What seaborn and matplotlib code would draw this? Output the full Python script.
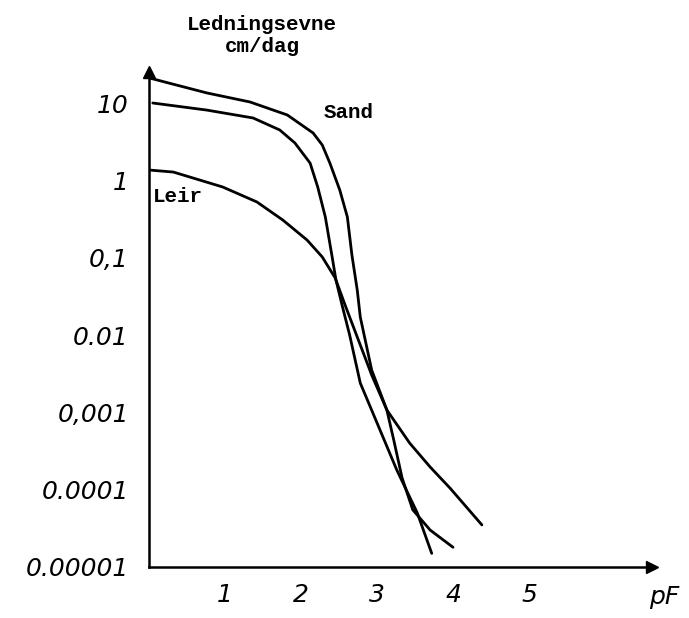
import numpy as np
import pandas as pd
import matplotlib
matplotlib.use("Agg")
import matplotlib.pyplot as plt
import seaborn as sns

# ---- data (pF vs conductivity cm/dag) ----
sand_a_pf = [0.01, 0.76, 1.33, 1.82, 2.16, 2.28, 2.38, 2.51, 2.61, 2.67, 2.74, 2.78, 2.93, 3.13, 3.22, 3.33, 3.47, 3.70, 4.00]
sand_a_k = [21.0, 13.5, 10.3, 7.0, 4.09, 2.86, 1.67, 0.75, 0.336, 0.108, 0.0382, 0.0171, 0.00352, 0.00107, 0.00044, 0.000142, 5.5e-5, 3.0e-5, 1.8e-5]

sand_b_pf = [0.05, 0.76, 1.37, 1.72, 1.92, 2.12, 2.22, 2.32, 2.41, 2.46, 2.54, 2.64, 2.78, 3.04, 3.26, 3.53, 3.72]
sand_b_k = [10.0, 8.1, 6.4, 4.48, 3.04, 1.67, 0.82, 0.336, 0.102, 0.0514, 0.0244, 0.0100, 0.00239, 0.00059, 0.000180, 5.0e-5, 1.5e-5]

leir_pf = [0.0, 0.32, 0.97, 1.42, 1.76, 2.08, 2.28, 2.45, 2.58, 2.78, 2.93, 3.13, 3.43, 3.70, 3.96, 4.38]
leir_k = [1.36, 1.28, 0.82, 0.525, 0.307, 0.169, 0.102, 0.0546, 0.0244, 0.00743, 0.00304, 0.00107, 0.0004, 0.000196, 0.000105, 3.5e-5]

y_ticks = [10, 1, 0.1, 0.01, 0.001, 0.0001, 0.00001]
y_tick_labels = ["10", "1", "0,1", "0.01", "0,001", "0.0001", "0.00001"]
x_ticks = [1, 2, 3, 4, 5]
x_tick_labels = ["1", "2", "3", "4", "5"]

df = pd.concat([
    pd.DataFrame({"pF": sand_a_pf, "K": sand_a_k, "curve": "Sand A"}),
    pd.DataFrame({"pF": sand_b_pf, "K": sand_b_k, "curve": "Sand B"}),
    pd.DataFrame({"pF": leir_pf, "K": leir_k, "curve": "Leir"}),
], ignore_index=True)

sns.set_theme(style="white")
plt.rcParams["font.family"] = ["DejaVu Sans"]

W, H = 689, 618
fig = plt.figure(figsize=(W / 100, H / 100), dpi=100)
ax = fig.add_axes([149 / W, 1 - 567 / H, (652 - 149) / W, (567 - 72) / H])

sns.lineplot(data=df, x="pF", y="K", hue="curve", units="curve", estimator=None,
             sort=False, palette=["black", "black", "black"], linewidth=2.0,
             legend=False, ax=ax)
for ln in ax.get_lines():
    ln.set_solid_joinstyle("round")
    ln.set_solid_capstyle("round")

ax.set_yscale("log")
ax.set_xlim(0, (652 - 149) / 76)
ax.set_ylim(1e-5, 10 ** (1 + (103 - 72) / 77.33))
ax.set_xticks(x_ticks)
ax.set_xticklabels(x_tick_labels, fontsize=18, fontstyle="italic")
ax.set_yticks(y_ticks)
ax.set_yticklabels(y_tick_labels, fontsize=18, fontstyle="italic")
ax.minorticks_off()
ax.tick_params(axis="both", direction="inout", length=7, width=1.3, color="black",
               labelcolor="black")
ax.tick_params(axis="y", pad=11)
ax.tick_params(axis="x", pad=8)
ax.set_xlabel("")
ax.set_ylabel("")
for s in ["top", "right"]:
    ax.spines[s].set_visible(False)
for s in ["left", "bottom"]:
    ax.spines[s].set_color("black")
    ax.spines[s].set_linewidth(1.8)

# axis arrows
ax.plot(1, 0, ">", transform=ax.transAxes, color="black", markersize=8, clip_on=False)
ax.plot(0, 1, "^", transform=ax.transAxes, color="black", markersize=8, clip_on=False)

# texts
fig.text(262 / W, 1 - 24 / H, "Ledningsevne", ha="center", va="center",
         family="Liberation Mono", fontsize=15, fontweight="bold", color="black")
fig.text(262 / W, 1 - 47 / H, "cm/dag", ha="center", va="center",
         family="Liberation Mono", fontsize=15, fontweight="bold", color="black")
fig.text(349 / W, 1 - 112 / H, "Sand", ha="center", va="center",
         family="Liberation Mono", fontsize=15, fontweight="bold", color="black")
fig.text(178 / W, 1 - 197 / H, "Leir", ha="center", va="center",
         family="Liberation Mono", fontsize=15, fontweight="bold", color="black")
fig.text(664 / W, 1 - 597 / H, "pF", ha="center", va="center",
         fontsize=18, fontstyle="italic", color="black")

fig.savefig("out.png", dpi=100, facecolor="white")
